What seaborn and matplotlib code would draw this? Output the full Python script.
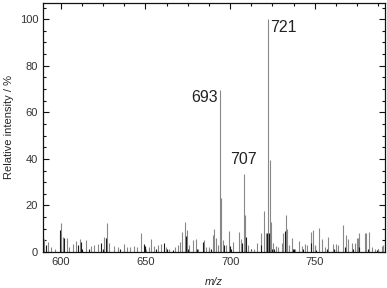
import matplotlib
matplotlib.use("Agg")
import matplotlib.pyplot as plt
from matplotlib.ticker import MultipleLocator
import seaborn as sns

# gray spectrum lines (m/z, relative intensity %)
mz_gray = [590.4, 592.3, 594.1, 596.5, 600.2, 601.2, 603.5, 604.7, 607.1, 609.0,
           611.4, 614.9, 617.9, 619.9, 621.9, 625.8, 627.3, 628.4, 631.7, 633.7,
           637.6, 639.0, 640.6, 643.1, 645.1, 647.4, 650.4, 652.4, 653.3, 654.9,
           657.3, 659.2, 662.2, 664.2, 667.2, 669.1, 670.7, 671.6, 673.1, 674.6,
           676.0, 678.0, 679.9, 681.3, 684.5, 685.8, 687.8, 689.8, 690.4, 691.4,
           692.7, 694.1, 694.7, 695.7, 697.3, 699.6, 702.0, 705.1, 706.5, 708.1,
           708.9, 710.5, 712.1, 714.4, 716.0, 718.5, 719.9, 721.1, 722.4, 723.4,
           724.4, 725.4, 727.0, 728.4, 730.4, 731.3, 732.9, 733.7, 734.9, 736.3,
           738.2, 740.8, 742.2, 744.1, 745.5, 747.5, 748.8, 750.0, 752.2, 754.2,
           755.9, 758.1, 760.5, 762.4, 763.8, 766.6, 768.5, 769.5, 771.7, 773.7,
           774.7, 775.4, 776.4, 779.6, 780.3, 782.3, 783.5, 785.5, 787.4, 789.4,
           790.4]
int_gray = [5.5, 4.3, 2.0, 1.5, 12.4, 6.6, 6.2, 2.0, 3.5, 4.7,
            5.6, 5.0, 2.5, 3.0, 3.5, 6.5, 12.4, 4.0, 2.5, 2.0,
            3.5, 2.0, 2.3, 2.5, 2.0, 8.0, 1.5, 2.0, 5.6, 2.5,
            3.0, 3.5, 2.0, 1.5, 2.0, 3.0, 4.5, 8.8, 12.8, 9.5,
            3.0, 5.0, 5.5, 1.5, 5.0, 2.0, 2.0, 7.5, 10.0, 6.0,
            3.0, 69.5, 23.0, 5.0, 3.0, 9.0, 4.5, 8.5, 5.5, 33.5,
            16.0, 3.0, 1.0, 1.5, 3.7, 8.0, 17.5, 8.0, 100.0, 39.5,
            13.0, 4.0, 2.5, 2.0, 4.0, 8.0, 16.0, 10.0, 3.0, 6.0,
            1.5, 4.7, 2.5, 3.5, 3.0, 8.8, 9.5, 3.0, 10.5, 5.6,
            2.0, 6.6, 3.5, 3.5, 3.0, 11.6, 7.3, 5.6, 4.0, 4.0,
            6.0, 6.2, 8.0, 8.0, 8.0, 8.8, 2.0, 1.5, 1.5, 2.5,
            3.0]

# dark spectrum lines
mz_black = [591.3, 599.4, 602.2, 610.0, 611.8, 616.5, 623.8, 626.8, 635.0, 649.0,
            656.0, 660.8, 666.0, 674.0, 680.5, 683.9, 689.0, 696.3, 700.5, 707.1,
            709.5, 718.0, 721.6, 722.9, 726.0, 732.3, 737.0, 743.0, 747.8, 751.0,
            757.0, 761.5, 768.0, 772.5, 776.0, 781.5, 786.5]
int_black = [3.0, 9.5, 6.0, 3.0, 4.5, 1.5, 4.0, 6.0, 1.2, 3.5,
             1.5, 4.0, 1.0, 7.0, 1.5, 4.5, 1.2, 3.0, 1.5, 4.0,
             6.5, 3.0, 8.0, 8.0, 1.5, 9.0, 1.2, 1.5, 4.0, 1.0,
             1.5, 1.2, 2.0, 1.5, 2.0, 1.5, 1.0]

# labelled peaks
peak_labels = ["693", "707", "721"]
peak_mz = [694.1, 708.1, 722.4]
peak_int = [69.5, 33.5, 100.0]

sns.set_theme(style="ticks")
plt.rcParams["font.family"] = ["Liberation Sans", "DejaVu Sans"]

fig = plt.figure(figsize=(3.87, 2.88), dpi=100)
ax = fig.add_axes([0.111, 0.125, 0.884, 0.865])

ax.vlines(mz_gray, 0, int_gray, color="#888888", linewidth=0.8)
ax.vlines(mz_black, 0, int_black, color="#1a1a1a", linewidth=0.8)

# peak annotations
ax.text(peak_mz[0] - 1.5, peak_int[0] - 3, peak_labels[0], ha="right",
        va="center", fontsize=11.5, color="#222222")
ax.text(peak_mz[1] - 0.3, peak_int[1] + 3, peak_labels[1], ha="center",
        va="bottom", fontsize=11.5, color="#222222")
ax.text(peak_mz[2] + 1.0, peak_int[2] - 3.5, peak_labels[2], ha="left",
        va="center", fontsize=11.5, color="#222222")

ax.set_xlim(589.5, 791.5)
ax.set_ylim(0, 107)
ax.xaxis.set_major_locator(MultipleLocator(50))
ax.xaxis.set_minor_locator(MultipleLocator(12.5))
ax.yaxis.set_major_locator(MultipleLocator(20))
ax.yaxis.set_minor_locator(MultipleLocator(5))

ax.tick_params(which="both", direction="in", top=True, right=True,
               color="#111111", width=0.8)
ax.tick_params(which="major", length=4, labelsize=8, labelcolor="#333333", pad=3.5)
ax.tick_params(which="minor", length=2)
for s in ax.spines.values():
    s.set_color("#111111")
    s.set_linewidth(0.9)

ax.set_xlabel("m/z", fontsize=8, style="italic", labelpad=7)
ax.set_ylabel("Relative intensity / %", fontsize=8, labelpad=4)

fig.savefig("out.png", dpi=100)
